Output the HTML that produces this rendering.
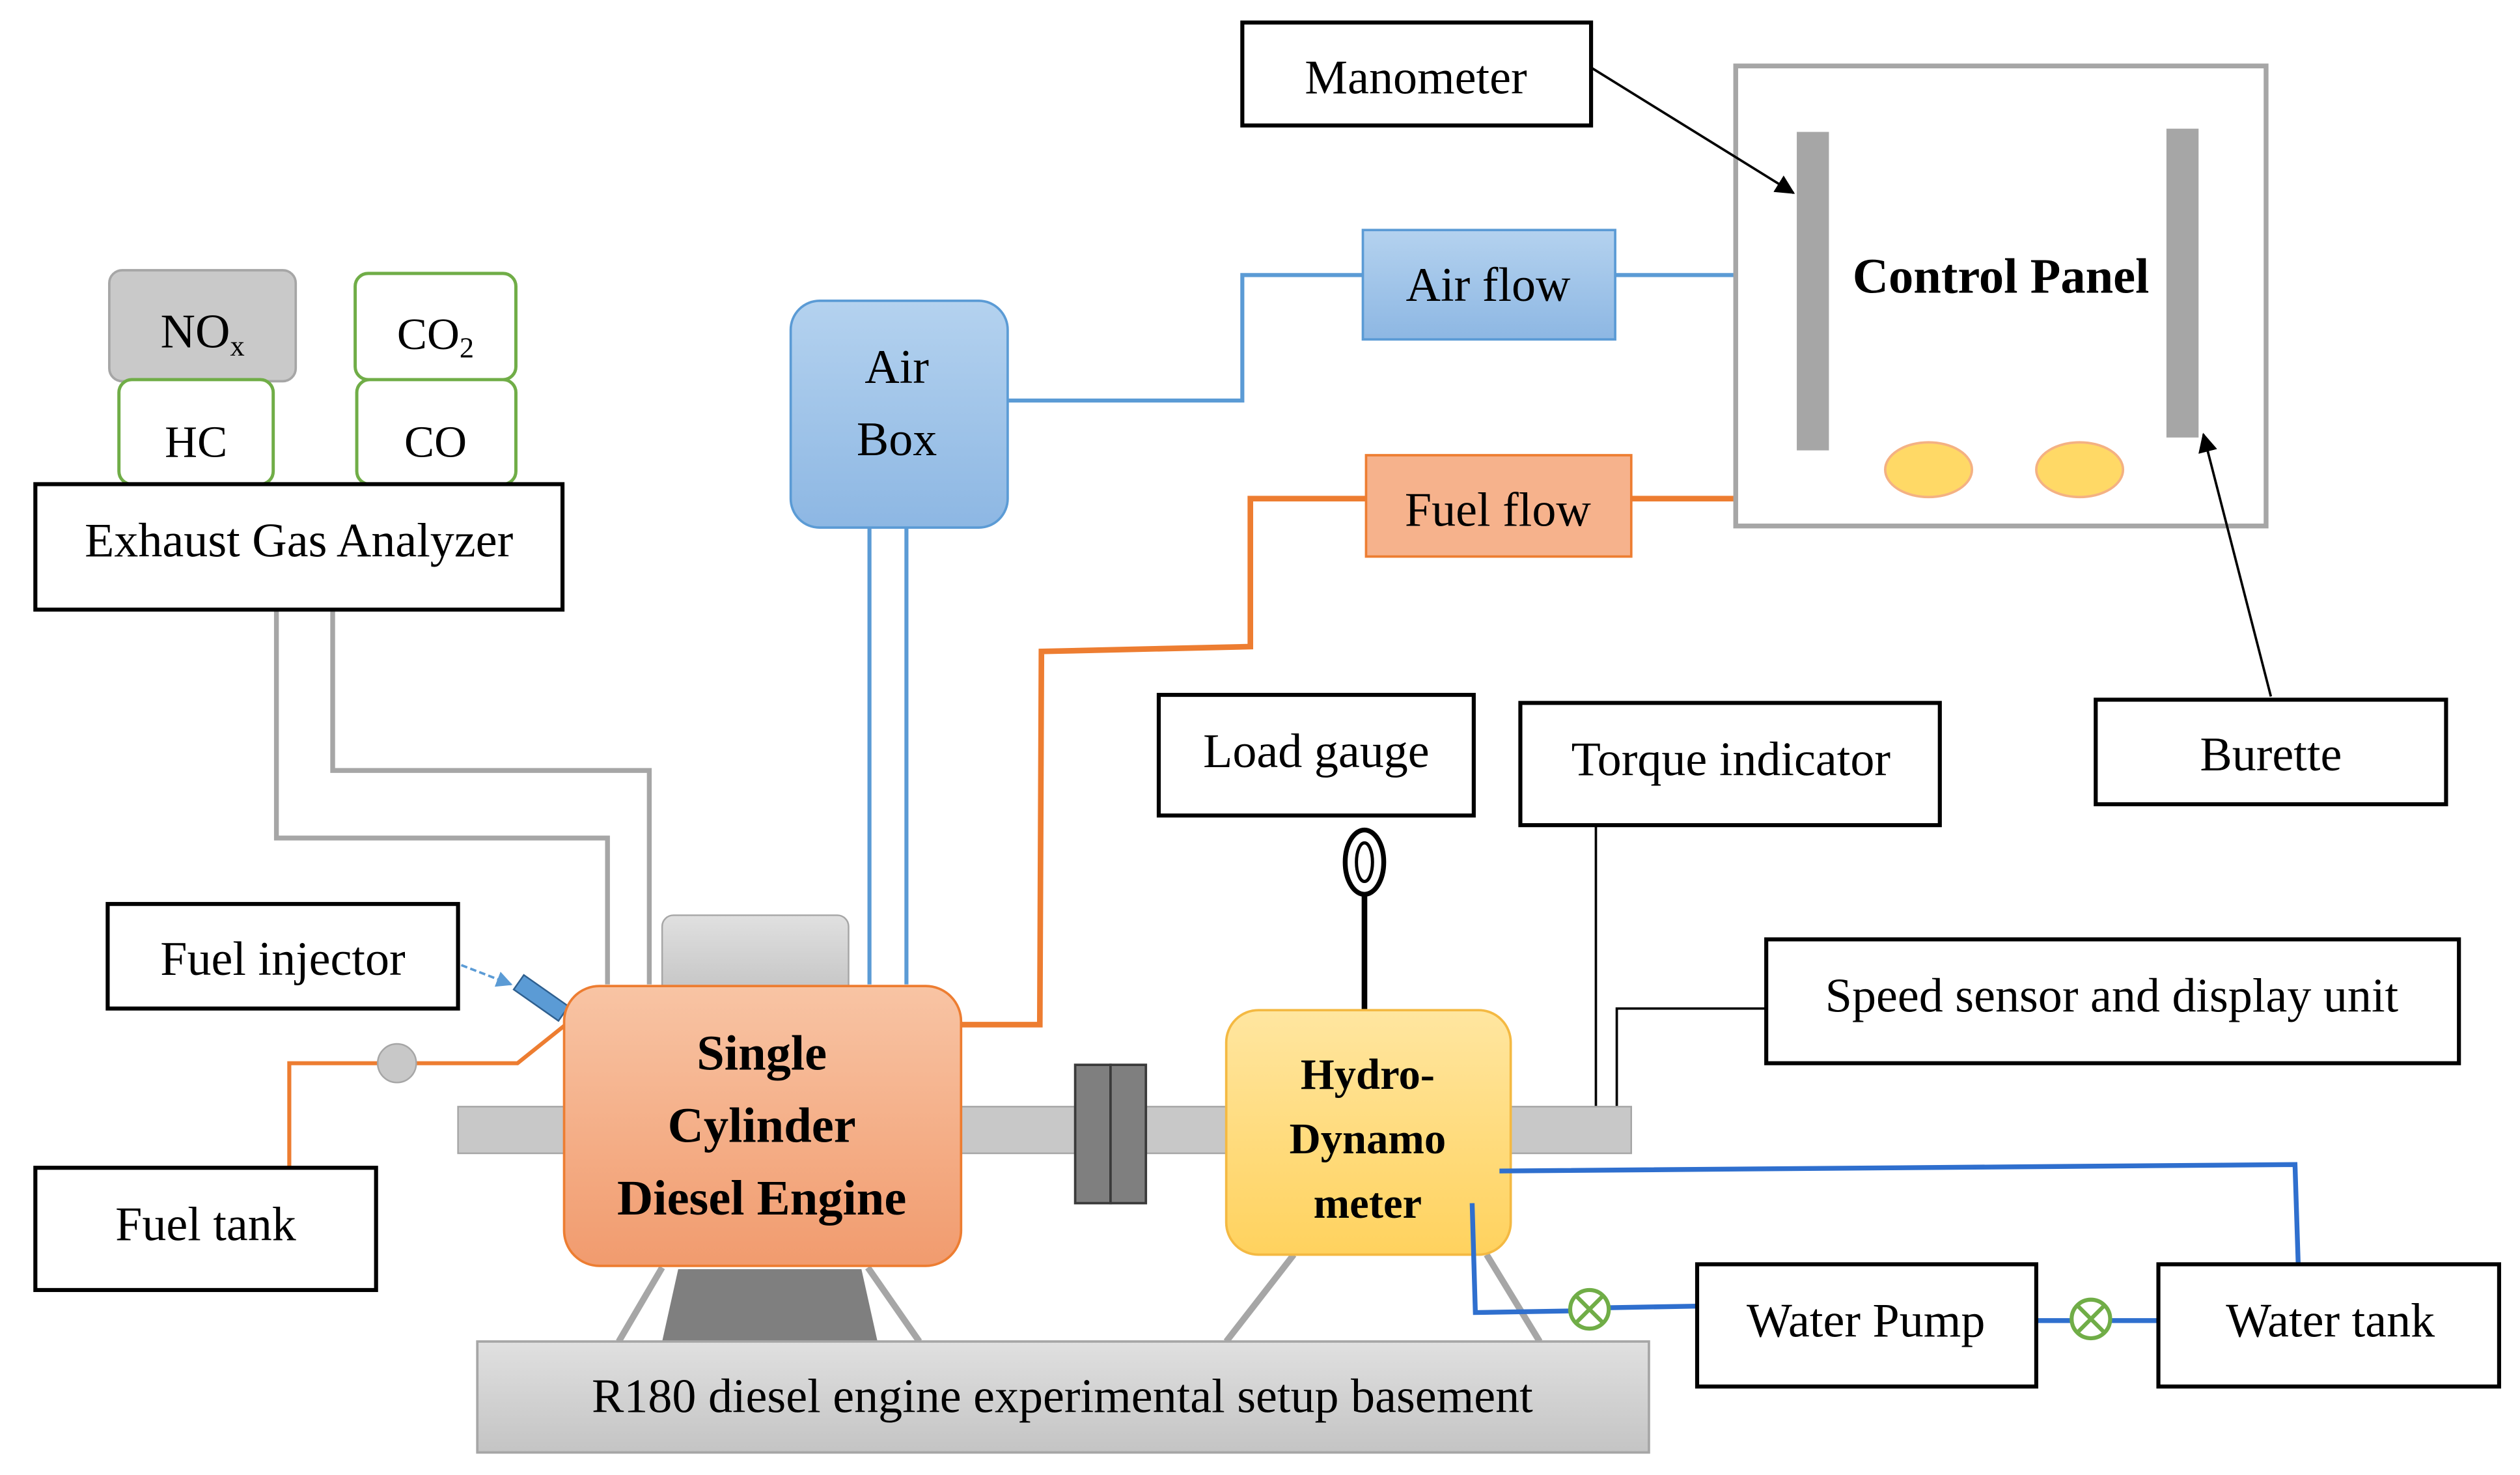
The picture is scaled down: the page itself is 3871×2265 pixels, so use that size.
<!DOCTYPE html>
<html><head><meta charset="utf-8"><style>html,body{margin:0;padding:0;background:#fff}svg{display:block}</style></head>
<body>
<svg width="3871" height="2265" viewBox="0 0 1568 917" preserveAspectRatio="none" xmlns="http://www.w3.org/2000/svg" font-family="'Liberation Serif', serif">
<defs>
<linearGradient id="gb" x1="0" y1="0" x2="0" y2="1"><stop offset="0" stop-color="#b4d2ef"/><stop offset="1" stop-color="#8db7e3"/></linearGradient>
<linearGradient id="go" x1="0" y1="0" x2="0" y2="1"><stop offset="0" stop-color="#f8c4a4"/><stop offset="1" stop-color="#f19b6e"/></linearGradient>
<linearGradient id="gy" x1="0" y1="0" x2="0" y2="1"><stop offset="0" stop-color="#ffe6a0"/><stop offset="1" stop-color="#ffd25e"/></linearGradient>
<linearGradient id="gg" x1="0" y1="0" x2="0" y2="1"><stop offset="0" stop-color="#e0e0e0"/><stop offset="1" stop-color="#c4c4c4"/></linearGradient>
<marker id="ar" markerWidth="12" markerHeight="12" refX="11" refY="6" orient="auto" markerUnits="userSpaceOnUse"><path d="M0,0 L12,6 L0,12 z" fill="#000"/></marker>
<marker id="ab" markerWidth="10" markerHeight="10" refX="9" refY="5" orient="auto" markerUnits="userSpaceOnUse"><path d="M0,0 L10,5 L0,10 z" fill="#5b9bd5"/></marker>
</defs>
<g font-size="30" text-anchor="middle">
<g fill="none" stroke="#a6a6a6" stroke-width="3">
<polyline points="172,379 172,521 378,521 378,612"/>
<polyline points="207,379 207,479 404,479 404,612"/>
</g>
<g fill="none" stroke="#5b9bd5" stroke-width="2.5">
<line x1="541" y1="328" x2="541" y2="612"/><line x1="564" y1="328" x2="564" y2="612"/>
<polyline points="627,249 773,249 773,171 848,171"/>
<line x1="1005" y1="171" x2="1080" y2="171"/>
</g>
<g fill="none" stroke="#ed7d31" stroke-width="3.5">
<polyline points="850,310 778,310 778,402 648,405 647,637 598,637"/>
<line x1="1015" y1="310" x2="1080" y2="310"/>
</g>
<rect x="773" y="14" width="217" height="64" fill="#fff" stroke="#000" stroke-width="2.5"/>
<text x="881" y="58">Manometer</text>
<rect x="1080" y="41" width="330" height="286" fill="#fff" stroke="#a6a6a6" stroke-width="3"/>
<rect x="1118" y="82" width="20" height="198" fill="#a6a6a6"/>
<rect x="1348" y="80" width="20" height="192" fill="#a6a6a6"/>
<text x="1245" y="182" font-weight="bold" font-size="31">Control Panel</text>
<ellipse cx="1200" cy="292" rx="27" ry="17" fill="#ffd966" stroke="#f4b183" stroke-width="1.5"/>
<ellipse cx="1294" cy="292" rx="27" ry="17" fill="#ffd966" stroke="#f4b183" stroke-width="1.5"/>
<line x1="990" y1="42" x2="1116" y2="120" stroke="#000" stroke-width="1.5" marker-end="url(#ar)"/>
<rect x="1304" y="435" width="218" height="65" fill="#fff" stroke="#000" stroke-width="2.5"/>
<text x="1413" y="479">Burette</text>
<line x1="1413" y1="433" x2="1371" y2="270" stroke="#000" stroke-width="1.5" marker-end="url(#ar)"/>
<rect x="848" y="143" width="157" height="68" fill="url(#gb)" stroke="#5b9bd5" stroke-width="1.5"/>
<text x="926" y="187">Air flow</text>
<rect x="850" y="283" width="165" height="63" fill="#f6b28c" stroke="#ed7d31" stroke-width="1.5"/>
<text x="932" y="327">Fuel flow</text>
<rect x="492" y="187" width="135" height="141" rx="18" fill="url(#gb)" stroke="#5b9bd5" stroke-width="1.5"/>
<text x="558" y="238">Air</text><text x="558" y="283">Box</text>
<rect x="68" y="168" width="116" height="69" rx="8" fill="#c9c9c9" stroke="#a6a6a6" stroke-width="1.5"/>
<text x="126" y="216">NO<tspan font-size="18" dy="5">x</tspan></text>
<rect x="221" y="170" width="100" height="66" rx="8" fill="#fff" stroke="#70ad47" stroke-width="2"/>
<text x="271" y="217" font-size="28">CO<tspan font-size="18" dy="5">2</tspan></text>
<rect x="74" y="236" width="96" height="65" rx="8" fill="#fff" stroke="#70ad47" stroke-width="2"/>
<text x="122" y="284" font-size="28">HC</text>
<rect x="222" y="236" width="99" height="65" rx="8" fill="#fff" stroke="#70ad47" stroke-width="2"/>
<text x="271" y="284" font-size="28">CO</text>
<rect x="22" y="301" width="328" height="78" fill="#fff" stroke="#000" stroke-width="2.5"/>
<text x="186" y="346">Exhaust Gas Analyzer</text>
<rect x="721" y="432" width="196" height="75" fill="#fff" stroke="#000" stroke-width="2.5"/>
<text x="819" y="477">Load gauge</text>
<ellipse cx="849" cy="536" rx="12" ry="20" fill="#fff" stroke="#000" stroke-width="3"/>
<ellipse cx="849" cy="536" rx="5" ry="12" fill="none" stroke="#000" stroke-width="2"/>
<line x1="849" y1="556" x2="849" y2="628" stroke="#000" stroke-width="3.5"/>
<rect x="946" y="437" width="261" height="76" fill="#fff" stroke="#000" stroke-width="2.5"/>
<text x="1077" y="482">Torque indicator</text>
<line x1="993" y1="513" x2="993" y2="688" stroke="#000" stroke-width="1.5"/>
<rect x="1099" y="584" width="431" height="77" fill="#fff" stroke="#000" stroke-width="2.5"/>
<text x="1314" y="629">Speed sensor and display unit</text>
<polyline points="1099,627 1006,627 1006,688" fill="none" stroke="#000" stroke-width="1.5"/>
<rect x="67" y="562" width="218" height="65" fill="#fff" stroke="#000" stroke-width="2.5"/>
<text x="176" y="606">Fuel injector</text>
<line x1="287" y1="600" x2="318" y2="612" stroke="#5b9bd5" stroke-width="1.5" stroke-dasharray="4,2" marker-end="url(#ab)"/>
<polyline points="180,726 180,661 322,661 352,637" fill="none" stroke="#ed7d31" stroke-width="2.5"/>
<circle cx="247" cy="661" r="12" fill="#c8c8c8" stroke="#a6a6a6"/>
<rect x="320" y="615" width="34" height="11" fill="#5b9bd5" stroke="#2e5f8f" stroke-width="1" transform="rotate(35 337 620)"/>
<rect x="22" y="726" width="212" height="76" fill="#fff" stroke="#000" stroke-width="2.5"/>
<text x="128" y="771">Fuel tank</text>
<g stroke="#a6a6a6" stroke-width="4">
<line x1="412" y1="788" x2="385" y2="834"/><line x1="540" y1="788" x2="572" y2="834"/>
<line x1="805" y1="780" x2="763" y2="834"/><line x1="925" y1="780" x2="958" y2="834"/>
</g>
<polygon points="422,789 536,789 546,834 412,834" fill="#7f7f7f"/>
<rect x="285" y="688" width="730" height="29" fill="#c8c8c8" stroke="#a6a6a6" stroke-width="1"/>
<rect x="669" y="662" width="22" height="86" fill="#7f7f7f" stroke="#3a3a3a" stroke-width="1.5"/>
<rect x="691" y="662" width="22" height="86" fill="#7f7f7f" stroke="#3a3a3a" stroke-width="1.5"/>
<rect x="412" y="569" width="116" height="50" rx="7" fill="url(#gg)" stroke="#a6a6a6" stroke-width="1"/>
<rect x="351" y="613" width="247" height="174" rx="22" fill="url(#go)" stroke="#ed7d31" stroke-width="1.5"/>
<g font-weight="bold" font-size="31"><text x="474" y="665">Single</text><text x="474" y="710">Cylinder</text><text x="474" y="755">Diesel Engine</text></g>
<rect x="763" y="628" width="177" height="152" rx="20" fill="url(#gy)" stroke="#f4b942" stroke-width="1.5"/>
<g font-weight="bold" font-size="27"><text x="851" y="677">Hydro-</text><text x="851" y="717">Dynamo</text><text x="851" y="757">meter</text></g>
<g fill="none" stroke="#2f6fce" stroke-width="3">
<polyline points="933,728 1428,724 1430,786"/>
<polyline points="916,748 918,816 977,815"/>
<line x1="1001" y1="813" x2="1056" y2="812"/>
<line x1="1267" y1="821" x2="1289" y2="821"/>
<line x1="1313" y1="821" x2="1343" y2="821"/>
</g>
<g fill="#fff" stroke="#70ad47" stroke-width="2.5">
<circle cx="989" cy="814" r="12"/><line x1="981" y1="806" x2="997" y2="822"/><line x1="997" y1="806" x2="981" y2="822"/>
<circle cx="1301" cy="820" r="12"/><line x1="1293" y1="812" x2="1309" y2="828"/><line x1="1309" y1="812" x2="1293" y2="828"/>
</g>
<rect x="1056" y="786" width="211" height="76" fill="#fff" stroke="#000" stroke-width="2.5"/>
<text x="1161" y="831">Water Pump</text>
<rect x="1343" y="786" width="212" height="76" fill="#fff" stroke="#000" stroke-width="2.5"/>
<text x="1450" y="831">Water tank</text>
<rect x="297" y="834" width="729" height="69" fill="url(#gg)" stroke="#a6a6a6" stroke-width="1.5"/>
<text x="661" y="878">R180 diesel engine experimental setup basement</text>
</g>
</svg>
</body></html>
